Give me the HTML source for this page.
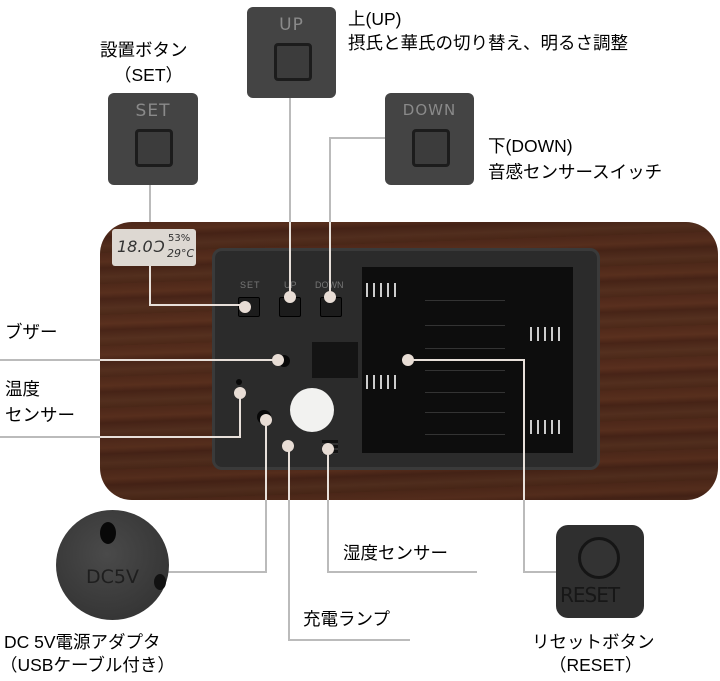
<!DOCTYPE html>
<html><head><meta charset="utf-8"><style>
*{margin:0;padding:0;box-sizing:border-box}
body{width:720px;height:681px;background:#fff;position:relative;overflow:hidden;font-family:"Liberation Sans","Noto Sans CJK JP",sans-serif;color:#000}
.a{position:absolute}
.t{position:absolute;font-size:17.5px;line-height:24px;white-space:nowrap}
.ln{position:absolute;background:#bbb}
.li{position:absolute;background:#e8e0da}
.dot{position:absolute;width:12px;height:12px;border-radius:50%;background:#e8ddd5;margin:-6px 0 0 -6px}
.photo{position:absolute;background:#444;border-radius:6px;color:#8a8a8a;font-size:17px;text-align:center;padding-top:8px;letter-spacing:1px;font-family:"DejaVu Sans",sans-serif}
.photo i{position:absolute;left:27px;top:36px;width:38px;height:38px;border:3px solid #1c1c1c;background:#3c3c3c;border-radius:4px}
.sb{position:absolute;width:22px;height:20px;background:#1c1c1c;border:1px solid #000;border-radius:2px}
.sp{position:absolute;height:14px;width:34px;background:repeating-linear-gradient(90deg,#ccc 0,#ccc 2px,transparent 2px,transparent 7px)}
.bar{position:absolute;height:1px;background:#333}
</style></head><body>
<!-- wood box -->
<div class="a" style="left:100px;top:222px;width:618px;height:278px;border-radius:32px;background:linear-gradient(180deg,rgba(0,0,0,0.05),rgba(0,0,0,0) 40%,rgba(0,0,0,0.08)),repeating-linear-gradient(178deg,#50291a 0,#5a301e 9px,#482417 15px,#55301f 24px,#4c2818 31px)"></div>
<!-- LCD -->
<div class="a" style="left:112px;top:229px;width:84px;height:37px;background:#ddd8d2;border-radius:3px;font-family:'DejaVu Sans',sans-serif;color:#333">
<span class="a" style="left:5px;top:8px;font-size:16px;font-style:italic">18.0Ɔ</span>
<span class="a" style="left:56px;top:4px;font-size:10px">53%</span>
<span class="a" style="left:55px;top:18px;font-size:11px;font-style:italic">29°C</span></div>
<!-- panel -->
<div class="a" style="left:212px;top:248px;width:388px;height:222px;background:#2b2b2b;border-radius:10px;border:3px solid #3a3a3a"></div>
<div class="a" style="left:362px;top:267px;width:211px;height:186px;background:#0d0d0d"></div>
<div class="sp" style="left:366px;top:283px"></div>
<div class="sp" style="left:366px;top:375px"></div>
<div class="sp" style="left:530px;top:327px"></div>
<div class="sp" style="left:530px;top:420px"></div>
<div class="bar" style="left:425px;top:300px;width:80px"></div>
<div class="bar" style="left:425px;top:325px;width:80px"></div>
<div class="bar" style="left:425px;top:348px;width:80px"></div>
<div class="bar" style="left:425px;top:370px;width:80px"></div>
<div class="bar" style="left:425px;top:392px;width:80px"></div>
<div class="bar" style="left:425px;top:412px;width:80px"></div>
<div class="bar" style="left:425px;top:434px;width:80px"></div>
<div class="a" style="left:312px;top:342px;width:46px;height:36px;background:#141414"></div>
<div class="a" style="left:290px;top:388px;width:44px;height:44px;border-radius:50%;background:#f2f2f0"></div>
<div class="a" style="left:322px;top:440px;width:16px;height:14px;background:repeating-linear-gradient(180deg,#111 0,#111 3px,#333 3px,#333 5px)"></div>
<div class="a" style="left:257px;top:410px;width:14px;height:14px;border-radius:50%;background:#080808"></div>
<div class="a" style="left:236px;top:379px;width:6px;height:6px;border-radius:50%;background:#080808"></div>
<div class="a" style="left:278px;top:355px;width:12px;height:12px;border-radius:50%;background:#080808"></div>
<div class="a" style="left:240px;top:280px;color:#777;font-size:9px;letter-spacing:1px">SET</div>
<div class="a" style="left:284px;top:280px;color:#777;font-size:9px">UP</div>
<div class="a" style="left:315px;top:280px;color:#777;font-size:9px">DOWN</div>
<div class="sb" style="left:238px;top:297px"></div><div class="sb" style="left:279px;top:297px"></div><div class="sb" style="left:320px;top:297px"></div>
<!-- inner lines -->
<div class="li" style="left:149px;top:266px;width:2px;height:40px"></div>
<div class="li" style="left:149px;top:304px;width:96px;height:2px"></div>
<div class="li" style="left:289px;top:222px;width:2px;height:75px"></div>
<div class="li" style="left:329px;top:222px;width:2px;height:75px"></div>
<div class="li" style="left:100px;top:359px;width:178px;height:2px"></div>
<div class="li" style="left:239px;top:393px;width:2px;height:45px"></div>
<div class="li" style="left:100px;top:436px;width:141px;height:2px"></div>
<div class="li" style="left:265px;top:420px;width:2px;height:80px"></div>
<div class="li" style="left:288px;top:446px;width:2px;height:54px"></div>
<div class="li" style="left:327px;top:449px;width:2px;height:51px"></div>
<div class="li" style="left:408px;top:359px;width:117px;height:2px"></div>
<div class="li" style="left:523px;top:359px;width:2px;height:141px"></div>
<!-- outer lines -->
<div class="ln" style="left:149px;top:185px;width:2px;height:37px"></div>
<div class="ln" style="left:289px;top:98px;width:2px;height:124px"></div>
<div class="ln" style="left:329px;top:137px;width:2px;height:85px"></div>
<div class="ln" style="left:329px;top:137px;width:56px;height:2px"></div>
<div class="ln" style="left:0;top:359px;width:100px;height:2px"></div>
<div class="ln" style="left:0;top:436px;width:100px;height:2px"></div>
<div class="ln" style="left:265px;top:500px;width:2px;height:72px"></div>
<div class="ln" style="left:164px;top:571px;width:103px;height:2px"></div>
<div class="ln" style="left:288px;top:500px;width:2px;height:141px"></div>
<div class="ln" style="left:288px;top:639px;width:122px;height:2px"></div>
<div class="ln" style="left:327px;top:500px;width:2px;height:73px"></div>
<div class="ln" style="left:327px;top:571px;width:150px;height:2px"></div>
<div class="ln" style="left:523px;top:500px;width:2px;height:73px"></div>
<div class="ln" style="left:523px;top:571px;width:36px;height:2px"></div>
<!-- dots -->
<div class="dot" style="left:245px;top:307px"></div>
<div class="dot" style="left:290px;top:297px"></div>
<div class="dot" style="left:330px;top:297px"></div>
<div class="dot" style="left:278px;top:360px"></div>
<div class="dot" style="left:240px;top:393px"></div>
<div class="dot" style="left:266px;top:420px"></div>
<div class="dot" style="left:288px;top:446px"></div>
<div class="dot" style="left:328px;top:449px"></div>
<div class="dot" style="left:408px;top:360px"></div>
<!-- photos -->
<div class="photo" style="left:108px;top:93px;width:90px;height:92px">SET<i></i></div>
<div class="photo" style="left:247px;top:7px;width:89px;height:91px">UP<i></i></div>
<div class="photo" style="left:385px;top:93px;width:89px;height:92px;font-size:15px">DOWN<i></i></div>
<div class="a" style="left:56px;top:510px;width:113px;height:110px;border-radius:50%;background:radial-gradient(circle at 45% 40%,#4a4a4a,#2e2e2e);color:#222;font-size:19px;font-family:'DejaVu Sans',sans-serif">
<span class="a" style="left:44px;top:12px;width:16px;height:22px;border-radius:50%;background:#080808"></span>
<span class="a" style="left:30px;top:56px;color:#1e1e1e">DC5V</span>
<span class="a" style="left:98px;top:64px;width:12px;height:16px;border-radius:50%;background:#111"></span></div>
<div class="a" style="left:556px;top:525px;width:88px;height:93px;border-radius:12px;background:#2f2f2f;color:#171717;font-size:20px;font-family:'DejaVu Sans',sans-serif">
<span class="a" style="left:22px;top:12px;width:42px;height:42px;border-radius:50%;border:3px solid #151515;background:#333"></span>
<span class="a" style="left:4px;top:58px;letter-spacing:-1px">RESET</span></div>
<!-- labels -->
<div class="t" style="left:100px;top:38px">設置ボタン</div>
<div class="t" style="left:114px;top:63px">（SET）</div>
<div class="t" style="left:348px;top:7px">上(UP)</div>
<div class="t" style="left:348px;top:31px">摂氏と華氏の切り替え、明るさ調整</div>
<div class="t" style="left:488px;top:134px">下(DOWN)</div>
<div class="t" style="left:488px;top:160px">音感センサースイッチ</div>
<div class="t" style="left:5px;top:320px">ブザー</div>
<div class="t" style="left:5px;top:377px">温度</div>
<div class="t" style="left:5px;top:403px">センサー</div>
<div class="t" style="left:343px;top:541px">湿度センサー</div>
<div class="t" style="left:303px;top:607px">充電ランプ</div>
<div class="t" style="left:4px;top:630px">DC 5V電源アダプタ</div>
<div class="t" style="left:0px;top:653px">（USBケーブル付き）</div>
<div class="t" style="left:532px;top:630px">リセットボタン</div>
<div class="t" style="left:549px;top:653px">（RESET）</div>
</body></html>
